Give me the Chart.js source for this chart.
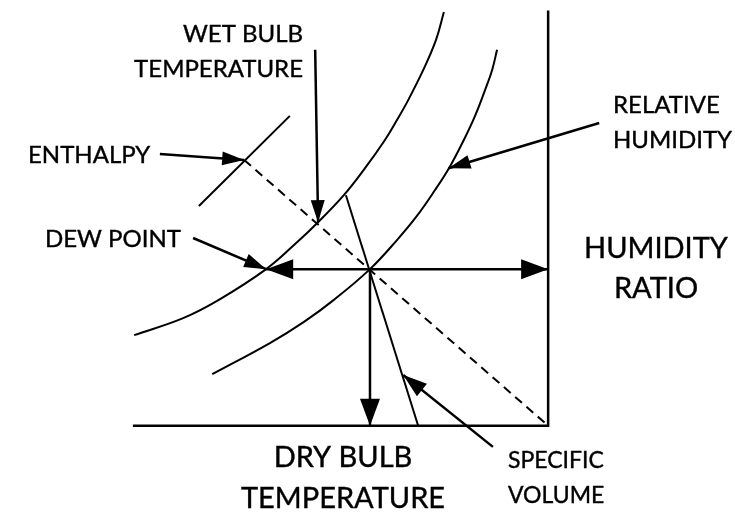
<!DOCTYPE html>
<html>
<head>
<meta charset="utf-8">
<script src="https://cdn.jsdelivr.net/npm/chart.js@4"></script>
<style>
  body { margin: 0; background: #fff; }
  canvas { display: block; }
</style>
</head>
<body>
<canvas id="psychroChart" width="735" height="515"></canvas>
<script>
// x = dry bulb temperature (0..100), y = humidity ratio (0..100), schematic units
const saturationCurve = [
    [0.3, 21.8], [12.1, 25.9], [20.7, 30.3], [32.1, 37.7], [38.8, 43.5],
    [44.6, 49.0], [50.8, 55.5], [55.9, 62.0], [60.7, 68.8], [63.6, 73.6],
    [66.3, 78.4], [69.9, 85.6], [73.0, 92.9], [74.9, 99.6],
];
const rhCurve = [
    [19.1, 12.4], [33.0, 19.9], [41.2, 25.0], [48.4, 30.3], [57.1, 37.7],
    [63.6, 44.7], [68.4, 50.5], [72.8, 56.8], [76.4, 62.5], [79.7, 68.8],
    [82.4, 74.6], [84.8, 80.8], [86.5, 85.6], [87.7, 90.5],
];
const axisFrame = [[0, 0], [100, 0], [100, 100]];

const statePoint = [57.1, 37.7];
const dewPoint = [32.1, 37.7];
const wetBulbPoint = [44.6, 49.0];
const enthalpyPoint = [26.8, 64.0];
const humidityRatioPoint = [100, 37.7];
const dryBulbPoint = [57.1, 0];

const enthalpyScale = [[15.9, 52.9], [37.8, 74.6]];
const enthalpyLine = [enthalpyPoint, [100, 0]];
const volumeLine = [[51.3, 55.5], [68.7, 0]];

// label tails of the callout arrows
const wetBulbTail = [43.9, 90.5];
const enthalpyTail = [6.5, 65.4];
const dewPointTail = [14.5, 45.2];
const rhTail = [112.3, 72.9];
const rhTip = [76.0, 62.0];
const volumeTail = [86.7, -5.1];
const volumeTip = [65.1, 12.2];

const wetBulbLabel = ["WET BULB", "TEMPERATURE"];
const enthalpyLabel = ["ENTHALPY"];
const dewPointLabel = ["DEW POINT"];
const rhLabel = ["RELATIVE", "HUMIDITY"];
const humidityRatioLabel = ["HUMIDITY", "RATIO"];
const dryBulbLabel = ["DRY BULB", "TEMPERATURE"];
const volumeLabel = ["SPECIFIC", "VOLUME"];

const pts = (arr) => arr.map(([x, y]) => ({ x, y }));

function line(arr, width, extra) {
    return Object.assign({
        data: pts(arr),
        showLine: true,
        borderColor: "#000",
        borderWidth: width,
        pointRadius: 0,
        fill: false,
    }, extra || {});
}

// [length, half width] of the arrow head
const bigHead = [27, 10];
const smallHead = [22, 7];

const datasets = [
    line(axisFrame, 2.5),
    line(saturationCurve, 2, { tension: 0.4 }),
    line(rhCurve, 2, { tension: 0.4 }),
    line(enthalpyScale, 2),
    line(enthalpyLine, 2, { borderDash: [9, 6] }),
    line(volumeLine, 2),
    line([statePoint, dewPoint], 2.5, { head: bigHead }),
    line([statePoint, humidityRatioPoint], 2.5, { head: bigHead }),
    line([statePoint, dryBulbPoint], 2.5, { head: bigHead }),
    line([wetBulbTail, wetBulbPoint], 2.5, { head: smallHead }),
    line([enthalpyTail, enthalpyPoint], 2.5, { head: smallHead }),
    line([dewPointTail, dewPoint], 2.5, { head: smallHead }),
    line([rhTail, rhTip], 2.5, { head: smallHead }),
    line([volumeTail, volumeTip], 2.5, { head: [24, 8] }),
];

// text placement in canvas pixels: [lines, x, first baseline, line gap, size, align]
const labelLayout = [
    [wetBulbLabel, 303, 42, 35, 24, "right"],
    [enthalpyLabel, 28, 163, 0, 24, "left"],
    [dewPointLabel, 45, 247, 0, 24, "left"],
    [rhLabel, 613, 113, 35, 24, "left"],
    [humidityRatioLabel, 656, 258, 40, 29, "center"],
    [dryBulbLabel, 343, 467, 41, 29, "center"],
    [volumeLabel, 508, 468, 35, 23, "left"],
];

const arrowHeads = {
    id: "arrowHeads",
    afterDatasetsDraw(chart) {
        const ctx = chart.ctx;
        chart.data.datasets.forEach((ds, i) => {
            if (!ds.head) return;
            const meta = chart.getDatasetMeta(i);
            const a = meta.data[0];
            const b = meta.data[meta.data.length - 1];
            const ang = Math.atan2(b.y - a.y, b.x - a.x);
            const [len, hw] = ds.head;
            const bx = b.x - len * Math.cos(ang);
            const by = b.y - len * Math.sin(ang);
            ctx.save();
            ctx.fillStyle = "#000";
            ctx.beginPath();
            ctx.moveTo(b.x, b.y);
            ctx.lineTo(bx - hw * Math.sin(ang), by + hw * Math.cos(ang));
            ctx.lineTo(bx + hw * Math.sin(ang), by - hw * Math.cos(ang));
            ctx.closePath();
            ctx.fill();
            ctx.restore();
        });
    },
};

const textLabels = {
    id: "textLabels",
    afterDraw(chart) {
        const ctx = chart.ctx;
        ctx.save();
        ctx.fillStyle = "#000";
        ctx.strokeStyle = "#000";
        ctx.lineWidth = 0.4;
        ctx.textBaseline = "alphabetic";
        labelLayout.forEach(([lines, x, y, gap, size, align]) => {
            ctx.font = size + "px Lato";
            ctx.textAlign = align;
            lines.forEach((t, k) => {
                ctx.fillText(t, x, y + k * gap);
                ctx.strokeText(t, x, y + k * gap);
            });
        });
        ctx.restore();
    },
};

new Chart(document.getElementById("psychroChart"), {
    type: "scatter",
    data: { datasets },
    options: {
        responsive: false,
        animation: false,
        layout: { padding: 0 },
        scales: {
            x: { type: "linear", min: -32, max: 145, display: false },
            y: { type: "linear", min: -21.5, max: 102.5, display: false },
        },
        plugins: {
            legend: { display: false },
            tooltip: { enabled: false },
        },
    },
    plugins: [arrowHeads, textLabels],
});
</script>
</body>
</html>
